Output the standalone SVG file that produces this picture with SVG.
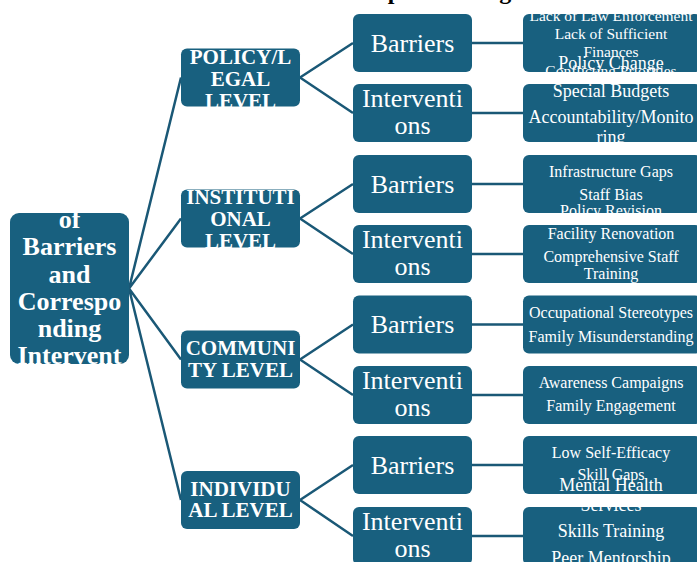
<svg xmlns="http://www.w3.org/2000/svg" width="697" height="562" viewBox="0 0 697 562">
<style>
.box{fill:#18607f}
.conn{stroke:#1a5876;stroke-width:2.5;fill:none}
text{font-family:"Liberation Serif","Times New Roman",serif;fill:#ffffff;text-anchor:middle}
.title{font-weight:bold;font-size:24px;fill:#000000;text-anchor:start}
.root{font-weight:bold;font-size:26px}
.lvl{font-weight:bold;font-size:21px}
.mid{font-size:26px}
.l15{font-size:15.5px}
.l16{font-size:16px}
.l18{font-size:18px}
</style>
<rect width="697" height="562" fill="#ffffff"/>
<text class="title" x="301" y="-1">Roadmap for Change</text>
<g id="connectors">
<path class="conn" d="M129,288.5L181,77.5M129,288.5L181,218.5M129,288.5L181,359.5M129,288.5L181,500"/>
<path class="conn" d="M300,77.5L353,43M300,77.5L353,113M300,218.5L353,184M300,218.5L353,254M300,359.5L353,324.5M300,359.5L353,395M300,500L353,465M300,500L353,536"/>
<path class="conn" d="M472,43H523M472,113H523M472,184H523M472,254H523M472,324.5H523M472,395H523M472,465H523M472,536H523"/>
</g>
<g id="root">
<rect class="box" x="10" y="213" width="119" height="151" rx="9"/>
<text class="root" x="69.5" y="228">of</text>
<text class="root" x="69.5" y="255">Barriers</text>
<text class="root" x="69.5" y="283">and</text>
<text class="root" x="69.5" y="310">Correspo</text>
<text class="root" x="69.5" y="337">nding</text>
<text class="root" x="69.5" y="364">Intervent</text>
</g>
<g id="level-policy">
<rect class="box" x="181" y="48.5" width="119" height="58" rx="6"/>
<text class="lvl" x="240.5" y="63.5">POLICY/L</text>
<text class="lvl" x="240.5" y="85.5">EGAL</text>
<text class="lvl" x="240.5" y="107.5">LEVEL</text>
</g>
<g id="level-institutional">
<rect class="box" x="181" y="189.5" width="119" height="58" rx="6"/>
<text class="lvl" x="240.5" y="204">INSTITUTI</text>
<text class="lvl" x="240.5" y="226">ONAL</text>
<text class="lvl" x="240.5" y="247.5">LEVEL</text>
</g>
<g id="level-community">
<rect class="box" x="181" y="330.5" width="119" height="58" rx="6"/>
<text class="lvl" x="240.5" y="355">COMMUNI</text>
<text class="lvl" x="240.5" y="377">TY LEVEL</text>
</g>
<g id="level-individual">
<rect class="box" x="181" y="471" width="119" height="58" rx="6"/>
<text class="lvl" x="240.5" y="495.5">INDIVIDU</text>
<text class="lvl" x="240.5" y="517">AL LEVEL</text>
</g>
<g id="policy-barriers">
<rect class="box" x="353" y="14" width="119" height="58" rx="6"/>
<text class="mid" x="412.5" y="51.5">Barriers</text>
</g>
<g id="policy-interventions">
<rect class="box" x="353" y="84" width="119" height="58" rx="6"/>
<text class="mid" x="412.5" y="107">Interventi</text>
<text class="mid" x="412.5" y="134">ons</text>
</g>
<g id="institutional-barriers">
<rect class="box" x="353" y="155" width="119" height="58" rx="6"/>
<text class="mid" x="412.5" y="192.5">Barriers</text>
</g>
<g id="institutional-interventions">
<rect class="box" x="353" y="225" width="119" height="58" rx="6"/>
<text class="mid" x="412.5" y="248">Interventi</text>
<text class="mid" x="412.5" y="275">ons</text>
</g>
<g id="community-barriers">
<rect class="box" x="353" y="295.5" width="119" height="58" rx="6"/>
<text class="mid" x="412.5" y="333">Barriers</text>
</g>
<g id="community-interventions">
<rect class="box" x="353" y="366" width="119" height="58" rx="6"/>
<text class="mid" x="412.5" y="389">Interventi</text>
<text class="mid" x="412.5" y="416">ons</text>
</g>
<g id="individual-barriers">
<rect class="box" x="353" y="436" width="119" height="58" rx="6"/>
<text class="mid" x="412.5" y="473.5">Barriers</text>
</g>
<g id="individual-interventions">
<rect class="box" x="353" y="507" width="119" height="58" rx="6"/>
<text class="mid" x="412.5" y="530">Interventi</text>
<text class="mid" x="412.5" y="557">ons</text>
</g>
<g id="policy-barriers-list">
<rect class="box" x="523" y="14" width="178" height="58" rx="6"/>
<text class="l15" x="611" y="20.5">Lack of Law Enforcement</text>
<text class="l15" x="611" y="38.5">Lack of Sufficient</text>
<text class="l15" x="611" y="57">Finances</text>
<text class="l15" x="611" y="76">Conflicting Priorities</text>
</g>
<g id="policy-interventions-list">
<rect class="box" x="523" y="84" width="178" height="58" rx="6"/>
<text class="l18" x="611" y="69">Policy Change</text>
<text class="l18" x="611" y="97">Special Budgets</text>
<text class="l18" x="611" y="123">Accountability/Monito</text>
<text class="l18" x="611" y="143">ring</text>
</g>
<g id="institutional-barriers-list">
<rect class="box" x="523" y="155" width="178" height="58" rx="6"/>
<text class="l16" x="611" y="177">Infrastructure Gaps</text>
<text class="l16" x="611" y="200">Staff Bias</text>
</g>
<g id="institutional-interventions-list">
<rect class="box" x="523" y="225" width="178" height="58" rx="6"/>
<text class="l16" x="611" y="216">Policy Revision</text>
<text class="l16" x="611" y="239">Facility Renovation</text>
<text class="l16" x="611" y="262">Comprehensive Staff</text>
<text class="l16" x="611" y="278.5">Training</text>
</g>
<g id="community-barriers-list">
<rect class="box" x="523" y="295.5" width="178" height="58" rx="6"/>
<text class="l16" x="611" y="318">Occupational Stereotypes</text>
<text class="l16" x="611" y="342">Family Misunderstanding</text>
</g>
<g id="community-interventions-list">
<rect class="box" x="523" y="366" width="178" height="58" rx="6"/>
<text class="l16" x="611" y="388">Awareness Campaigns</text>
<text class="l16" x="611" y="411">Family Engagement</text>
</g>
<g id="individual-barriers-list">
<rect class="box" x="523" y="436" width="178" height="58" rx="6"/>
<text class="l16" x="611" y="458">Low Self-Efficacy</text>
<text class="l16" x="611" y="480">Skill Gaps</text>
</g>
<g id="individual-interventions-list">
<rect class="box" x="523" y="507" width="178" height="58" rx="6"/>
<text class="l18" x="611" y="491">Mental Health</text>
<text class="l18" x="611" y="511">Services</text>
<text class="l18" x="611" y="537">Skills Training</text>
<text class="l18" x="611" y="564">Peer Mentorship</text>
</g>
</svg>
